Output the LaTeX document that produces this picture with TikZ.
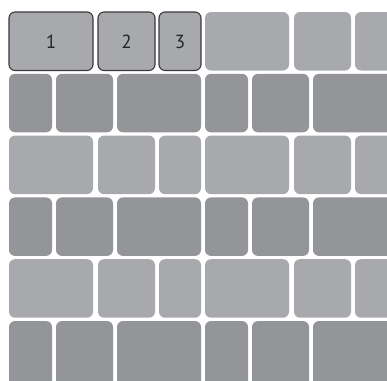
\documentclass[tikz,border=0pt]{standalone}
\usepackage{fontspec}
\setmainfont{PT Sans}
\definecolor{lightg}{HTML}{A7A9AC}
\definecolor{darkg}{HTML}{939598}
\definecolor{edgeg}{HTML}{3A3A3C}
\begin{document}
\begin{tikzpicture}[x=1pt,y=-1pt,
  tile/.style={rounded corners=6pt},
  lighttile/.style={tile,fill=lightg},
  darktile/.style={tile,fill=darkg},
  keytile/.style={tile,draw=edgeg,line width=1.1pt},
  num/.style={font=\fontsize{19}{19}\selectfont,text=black!85}]
\useasboundingbox (0,0) rectangle (387,380);
\fill[white] (0,0) rectangle (387,380);
\clip (0,0) rectangle (387,380);
% light rows
\foreach \r in {0,2,4} {
  \pgfmathsetmacro\tp{12+61.8*\r}
  \pgfmathsetmacro\bt{\tp+58.5}
  \foreach \o in {0,196} {
    \fill[lighttile] (9+\o,\tp) rectangle (93+\o,\bt);
    \fill[lighttile] (98+\o,\tp) rectangle (155+\o,\bt);
    \fill[lighttile] (159+\o,\tp) rectangle (201+\o,\bt);
  }
}
% dark rows
\foreach \r in {1,3,5} {
  \pgfmathsetmacro\tp{12+61.8*\r}
  \pgfmathsetmacro\bt{\r==5 ? 392 : \tp+58.5}
  \foreach \o in {0,196} {
    \fill[darktile] (9+\o,\tp) rectangle (52+\o,\bt);
    \fill[darktile] (56+\o,\tp) rectangle (113+\o,\bt);
    \fill[darktile] (117+\o,\tp) rectangle (201+\o,\bt);
  }
}
% outlined key tiles
\draw[keytile] (9,12) rectangle (93,70.5);
\draw[keytile] (98,12) rectangle (155,70.5);
\draw[keytile] (159,12) rectangle (201,70.5);
\node[num] (n1) at (51,41.5) {1};
\node[num] (n2) at (126.5,41.5) {2};
\node[num] (n3) at (180,41.5) {3};
\end{tikzpicture}
\end{document}
